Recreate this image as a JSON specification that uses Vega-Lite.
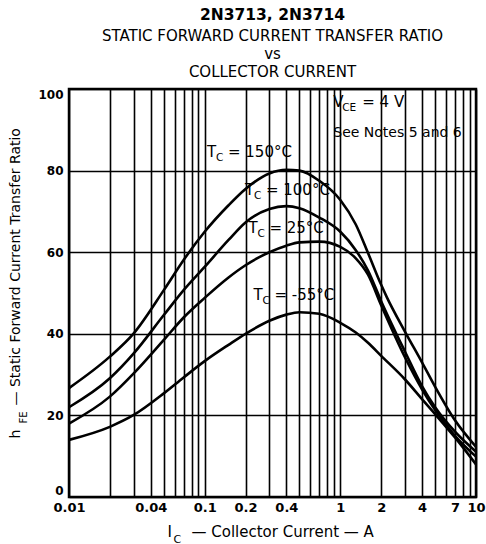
{
  "$schema": "https://vega.github.io/schema/vega-lite/v6.json",
  "width": 407,
  "height": 408,
  "autosize": {"type": "none"},
  "padding": {"left": 69, "top": 89, "right": 10, "bottom": 47},
  "background": "white",
  "config": {
    "font": "DejaVu Sans",
    "view": {"stroke": "black", "strokeWidth": 2.5},
    "axis": {"gridColor": "black", "gridOpacity": 1, "gridWidth": 1.6, "domain": false, "ticks": false, "labelColor": "black", "titleColor": "black", "labelFont": "DejaVu Sans", "titleFont": "DejaVu Sans", "titleFontWeight": "normal"},
    "text": {"color": "black", "align": "left", "baseline": "middle"}
  },
  "title": {
    "text": "2N3713, 2N3714",
    "subtitle": ["STATIC FORWARD CURRENT TRANSFER RATIO", "vs", "COLLECTOR CURRENT"],
    "anchor": "middle",
    "frame": "group",
    "font": "DejaVu Sans",
    "fontSize": 15.5,
    "fontWeight": "bold",
    "color": "black",
    "subtitleFont": "DejaVu Sans",
    "subtitleFontSize": 15,
    "subtitleColor": "black",
    "subtitleLineHeight": 18,
    "subtitlePadding": 6,
    "offset": 8
  },
  "datasets": {
    "curves": [
      {"T": "150", "I": 0.01, "h": 26.7}, {"T": "150", "I": 0.02, "h": 34.4}, {"T": "150", "I": 0.03, "h": 40.1}, {"T": "150", "I": 0.05, "h": 50.7}, {"T": "150", "I": 0.07, "h": 58.1}, {"T": "150", "I": 0.1, "h": 65}, {"T": "150", "I": 0.15, "h": 71.5}, {"T": "150", "I": 0.2, "h": 75.5}, {"T": "150", "I": 0.3, "h": 79.3}, {"T": "150", "I": 0.4, "h": 80.2}, {"T": "150", "I": 0.5, "h": 80}, {"T": "150", "I": 0.7, "h": 77.5}, {"T": "150", "I": 1, "h": 72.8}, {"T": "150", "I": 1.3, "h": 66.8}, {"T": "150", "I": 1.6, "h": 59.8}, {"T": "150", "I": 2, "h": 52}, {"T": "150", "I": 2.2, "h": 49}, {"T": "150", "I": 3, "h": 40.5}, {"T": "150", "I": 4, "h": 33}, {"T": "150", "I": 5, "h": 27}, {"T": "150", "I": 7, "h": 18.8}, {"T": "150", "I": 10, "h": 12.3},
      {"T": "100", "I": 0.01, "h": 22}, {"T": "100", "I": 0.02, "h": 29.1}, {"T": "100", "I": 0.03, "h": 35.2}, {"T": "100", "I": 0.05, "h": 44.6}, {"T": "100", "I": 0.07, "h": 50.7}, {"T": "100", "I": 0.1, "h": 56.4}, {"T": "100", "I": 0.15, "h": 63}, {"T": "100", "I": 0.2, "h": 67.3}, {"T": "100", "I": 0.3, "h": 70.6}, {"T": "100", "I": 0.4, "h": 71.3}, {"T": "100", "I": 0.5, "h": 70.8}, {"T": "100", "I": 0.7, "h": 68.5}, {"T": "100", "I": 1, "h": 65}, {"T": "100", "I": 1.3, "h": 60.5}, {"T": "100", "I": 1.6, "h": 55.5}, {"T": "100", "I": 2, "h": 48}, {"T": "100", "I": 3, "h": 35.6}, {"T": "100", "I": 4, "h": 27.2}, {"T": "100", "I": 5, "h": 22}, {"T": "100", "I": 7, "h": 16}, {"T": "100", "I": 10, "h": 11.1},
      {"T": "25", "I": 0.01, "h": 18}, {"T": "25", "I": 0.02, "h": 24.6}, {"T": "25", "I": 0.03, "h": 30.3}, {"T": "25", "I": 0.05, "h": 38.5}, {"T": "25", "I": 0.07, "h": 44}, {"T": "25", "I": 0.1, "h": 48.8}, {"T": "25", "I": 0.15, "h": 53.8}, {"T": "25", "I": 0.2, "h": 56.8}, {"T": "25", "I": 0.3, "h": 60}, {"T": "25", "I": 0.4, "h": 61.6}, {"T": "25", "I": 0.5, "h": 62.4}, {"T": "25", "I": 0.7, "h": 62.6}, {"T": "25", "I": 1, "h": 61.3}, {"T": "25", "I": 1.3, "h": 58.5}, {"T": "25", "I": 1.6, "h": 54.5}, {"T": "25", "I": 2, "h": 47}, {"T": "25", "I": 3, "h": 34.2}, {"T": "25", "I": 4, "h": 26.4}, {"T": "25", "I": 5, "h": 21.3}, {"T": "25", "I": 7, "h": 15}, {"T": "25", "I": 10, "h": 9.9},
      {"T": "-55", "I": 0.01, "h": 14}, {"T": "-55", "I": 0.02, "h": 17.2}, {"T": "-55", "I": 0.03, "h": 20.1}, {"T": "-55", "I": 0.05, "h": 25.4}, {"T": "-55", "I": 0.07, "h": 29.3}, {"T": "-55", "I": 0.1, "h": 33.3}, {"T": "-55", "I": 0.15, "h": 37.3}, {"T": "-55", "I": 0.2, "h": 40}, {"T": "-55", "I": 0.3, "h": 43.2}, {"T": "-55", "I": 0.4, "h": 44.7}, {"T": "-55", "I": 0.5, "h": 45.3}, {"T": "-55", "I": 0.7, "h": 44.9}, {"T": "-55", "I": 1, "h": 42.7}, {"T": "-55", "I": 1.3, "h": 40.3}, {"T": "-55", "I": 1.6, "h": 37.8}, {"T": "-55", "I": 2, "h": 34.6}, {"T": "-55", "I": 3, "h": 28.8}, {"T": "-55", "I": 4, "h": 24}, {"T": "-55", "I": 5, "h": 20.3}, {"T": "-55", "I": 7, "h": 14.6}, {"T": "-55", "I": 10, "h": 8}
    ],
    "tlabels": [
      {"I": 0.104, "h": 84.6, "main": "T", "sub": "C", "rest": "= 150°C"},
      {"I": 0.198, "h": 75.2, "main": "T", "sub": "C", "rest": "= 100°C"},
      {"I": 0.21, "h": 65.9, "main": "T", "sub": "C", "rest": "= 25°C"},
      {"I": 0.229, "h": 49.5, "main": "T", "sub": "C", "rest": "= -55°C"}
    ],
    "vlabel": [
      {"I": 0.887, "h": 96.8, "main": "V", "sub": "CE", "rest": "= 4 V"}
    ],
    "notes": [
      {"I": 0.887, "h": 89.1, "text": "See Notes 5 and 6"}
    ]
  },
  "layer": [
    {
      "data": {"name": "curves"},
      "mark": {"type": "line", "color": "black", "strokeWidth": 2.6, "interpolate": "monotone"},
      "encoding": {
        "x": {"field": "I", "type": "quantitative", "scale": {"type": "log", "domain": [0.01, 10], "nice": false},
          "axis": {"values": [0.01,0.02,0.03,0.04,0.05,0.06,0.07,0.08,0.09,0.1,0.2,0.3,0.4,0.5,0.6,0.7,0.8,0.9,1,2,3,4,5,6,7,8,9,10], "grid": true, "labels": false, "orient": "bottom", "title": "I", "titleFontSize": 15, "titleAlign": "left", "titleBaseline": "middle", "titleX": 98, "titleY": 34}},
        "y": {"field": "h", "type": "quantitative", "scale": {"domain": [0, 100], "nice": false},
          "axis": {"values": [0, 20, 40, 60, 80, 100], "grid": true, "labelFontSize": 12, "labelFontWeight": "bold", "labelPadding": 6, "labelFlush": true, "orient": "left", "title": "— Static Forward Current Transfer Ratio", "titleFontSize": 14, "titleAngle": -90, "titleAlign": "left", "titleBaseline": "middle", "titleX": -54, "titleY": 316}},
        "detail": {"field": "T"}
      }
    },
    {
      "data": {"name": "tlabels"},
      "mark": {"type": "text", "fontSize": 15},
      "encoding": {
        "x": {"field": "I", "type": "quantitative",
          "axis": {"values": [0.01, 0.04, 0.1, 0.2, 0.4, 1, 2, 4, 7, 10], "format": "~g", "grid": false, "labelFontSize": 13, "labelFontWeight": "bold", "labelPadding": 4, "labelFlush": false, "orient": "bottom", "title": "— Collector Current — A", "titleFontSize": 15, "titleAlign": "left", "titleBaseline": "middle", "titleX": 122, "titleY": 34}},
        "y": {"field": "h", "type": "quantitative",
          "axis": {"grid": false, "labels": false, "orient": "left", "title": "h", "titleFontSize": 14, "titleAngle": -90, "titleAlign": "left", "titleBaseline": "middle", "titleX": -54, "titleY": 349}},
        "text": {"field": "main"}
      }
    },
    {
      "data": {"name": "tlabels"},
      "mark": {"type": "text", "fontSize": 10.5, "dx": 9, "dy": 6},
      "encoding": {
        "x": {"field": "I", "type": "quantitative", "axis": null},
        "y": {"field": "h", "type": "quantitative", "axis": null},
        "text": {"field": "sub"}
      }
    },
    {
      "data": {"name": "tlabels"},
      "mark": {"type": "text", "fontSize": 15, "dx": 21},
      "encoding": {
        "x": {"field": "I", "type": "quantitative", "axis": null},
        "y": {"field": "h", "type": "quantitative", "axis": null},
        "text": {"field": "rest"}
      }
    },
    {
      "data": {"name": "vlabel"},
      "mark": {"type": "text", "fontSize": 15},
      "encoding": {
        "x": {"field": "I", "type": "quantitative", "axis": null},
        "y": {"field": "h", "type": "quantitative", "axis": null},
        "text": {"field": "main"}
      }
    },
    {
      "data": {"name": "vlabel"},
      "mark": {"type": "text", "fontSize": 10.5, "dx": 9, "dy": 6},
      "encoding": {
        "x": {"field": "I", "type": "quantitative", "axis": null},
        "y": {"field": "h", "type": "quantitative", "axis": null},
        "text": {"field": "sub"}
      }
    },
    {
      "data": {"name": "vlabel"},
      "mark": {"type": "text", "fontSize": 15, "dx": 29},
      "encoding": {
        "x": {"field": "I", "type": "quantitative", "axis": null},
        "y": {"field": "h", "type": "quantitative", "axis": null},
        "text": {"field": "rest"}
      }
    },
    {
      "data": {"name": "notes"},
      "mark": {"type": "text", "fontSize": 14},
      "encoding": {
        "x": {"field": "I", "type": "quantitative",
          "axis": {"grid": false, "labels": false, "orient": "bottom", "title": "C", "titleFontSize": 11, "titleAlign": "left", "titleBaseline": "middle", "titleX": 104, "titleY": 42}},
        "y": {"field": "h", "type": "quantitative",
          "axis": {"grid": false, "labels": false, "orient": "left", "title": "FE", "titleFontSize": 10, "titleAngle": -90, "titleAlign": "left", "titleBaseline": "middle", "titleX": -46, "titleY": 334}},
        "text": {"field": "text"}
      }
    }
  ],
  "resolve": {"axis": {"x": "independent", "y": "independent"}}
}
